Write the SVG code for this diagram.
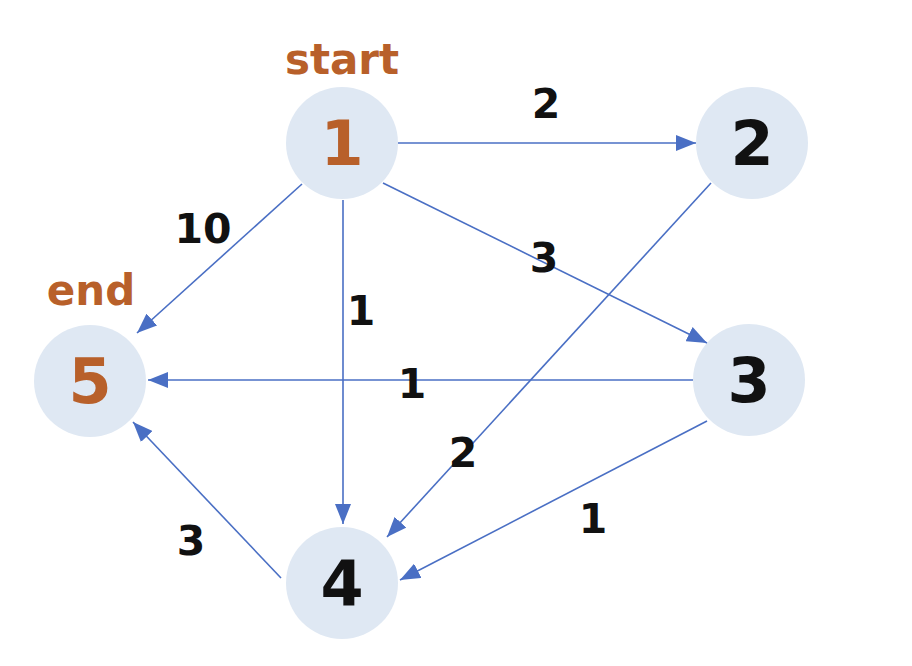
<svg xmlns="http://www.w3.org/2000/svg" width="912" height="666" viewBox="0 0 912 666">
<style>
.node{fill:#dfe8f3}
.nt{font-family:"DejaVu Sans",Verdana,sans-serif;font-weight:bold;font-size:62px;text-anchor:middle;fill:#111}
.or{fill:#b8602a}
.lb{font-family:"DejaVu Sans",Verdana,sans-serif;font-weight:bold;font-size:41px;text-anchor:middle;fill:#111}
.tag{font-family:"DejaVu Sans",Verdana,sans-serif;font-weight:bold;font-size:42px;text-anchor:middle;fill:#b8602a}
.e{stroke:#4a6fc4;stroke-width:1.6;fill:none;marker-end:url(#ah)}
</style>
<defs>
<marker id="ah" viewBox="0 0 20 16" refX="20" refY="8" markerWidth="20" markerHeight="16" markerUnits="userSpaceOnUse" orient="auto">
<path d="M0,0 L20,8 L0,16 Z" fill="#4a6fc4"/>
</marker>
</defs>
<rect width="912" height="666" fill="#fff"/>
<g id="n1"><circle class="node" cx="342" cy="143" r="56"/><text class="nt or" x="342" y="165">1</text><text class="tag" x="342" y="74">start</text></g>
<g id="n2"><circle class="node" cx="752" cy="143" r="56"/><text class="nt" x="752" y="165">2</text></g>
<g id="n3"><circle class="node" cx="749" cy="380" r="56"/><text class="nt" x="749" y="402">3</text></g>
<g id="n4"><circle class="node" cx="342" cy="583" r="56"/><text class="nt" x="342" y="605">4</text></g>
<g id="n5"><circle class="node" cx="90" cy="381" r="56"/><text class="nt or" x="90" y="403">5</text><text class="tag" x="91" y="305">end</text></g>
<g id="edges">
<line class="e" x1="398" y1="143" x2="696" y2="143"/>
<line class="e" x1="302" y1="184" x2="137" y2="333"/>
<line class="e" x1="343" y1="200" x2="343" y2="524"/>
<line class="e" x1="383" y1="183" x2="707" y2="343"/>
<line class="e" x1="711" y1="183" x2="387" y2="537"/>
<line class="e" x1="693" y1="380" x2="148" y2="380"/>
<line class="e" x1="707" y1="421" x2="400" y2="580"/>
<line class="e" x1="281" y1="578" x2="133" y2="422"/>
<text class="lb" x="546" y="118">2</text>
<text class="lb" x="203" y="243">10</text>
<text class="lb" x="544" y="272">3</text>
<text class="lb" x="361" y="325">1</text>
<text class="lb" x="412" y="398">1</text>
<text class="lb" x="463" y="467">2</text>
<text class="lb" x="593" y="533">1</text>
<text class="lb" x="191" y="555">3</text>
</g>
</svg>
